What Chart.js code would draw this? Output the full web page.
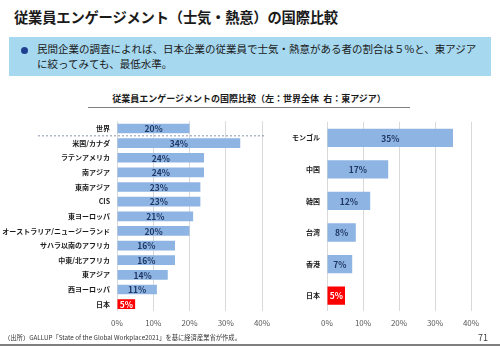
<!DOCTYPE html>
<html lang="ja">
<head>
<meta charset="utf-8">
<script src="https://cdn.jsdelivr.net/npm/chart.js@4"></script>
<style>
  html, body { margin: 0; padding: 0; background: #fff; }
  body { width: 500px; height: 346px; position: relative; overflow: hidden;
         font-family: "Noto Sans CJK JP", "Noto Sans", sans-serif; color: #1a1a1a; }
  .title { position: absolute; left: 14px; top: 6px; font-size: 14.3px; font-weight: 700; letter-spacing: -0.2px; }
  .note { position: absolute; left: 9px; top: 37px; width: 482px; height: 39px; background: #a6d8ef; }
  .note .dot { position: absolute; left: 12px; top: 10px; width: 7px; height: 7px; border-radius: 50%; background: #1f3f8f; }
  .note p { position: absolute; left: 28px; top: 5px; margin: 0; font-size: 10.5px; line-height: 14.5px; white-space: nowrap; }
  .ctitle { position: absolute; left: 88px; top: 92px; width: 322px; text-align: center; font-size: 9px; font-weight: 700;
            border-bottom: 1px solid #7f7f7f; padding-bottom: 2px; }
  #leftBox  { position: absolute; left: 0;     top: 110px; width: 280px; height: 229px; }
  #rightBox { position: absolute; left: 270px; top: 110px; width: 230px; height: 229px; }
  .src { position: absolute; left: 4px; top: 333px; font-size: 6.3px; color: #333; }
  .page { position: absolute; right: 12px; top: 331px; font-size: 9px; color: #404040; }
  .rule { position: absolute; left: 0; right: 0; top: 344px; height: 2px; background: #7f7f7f; }
</style>
</head>
<body>
<div class="title">従業員エンゲージメント（士気・熱意）の国際比較</div>
<div class="note"><span class="dot"></span><p>民間企業の調査によれば、日本企業の従業員で士気・熱意がある者の割合は５%と、東アジア<br>に絞ってみても、最低水準。</p></div>
<div class="ctitle">従業員エンゲージメントの国際比較（左：世界全体&nbsp;&nbsp;右：東アジア）</div>
<div id="leftBox"><canvas id="leftChart"></canvas></div>
<div id="rightBox"><canvas id="rightChart"></canvas></div>
<div class="src">（出所）GALLUP「State of the Global Workplace2021」を基に経済産業省が作成。</div>
<div class="page">71</div>
<div class="rule"></div>
<script>
// --- data ---
var worldRegions = ['世界', '米国/カナダ', 'ラテンアメリカ', '南アジア', '東南アジア', 'CIS', '東ヨーロッパ',
  'オーストラリア/ニュージーランド', 'サハラ以南のアフリカ', '中東/北アフリカ', '東アジア', '西ヨーロッパ', '日本'];
var worldValues = [20, 34, 24, 24, 23, 23, 21, 20, 16, 16, 14, 11, 5];
var eastAsiaRegions = ['モンゴル', '中国', '韓国', '台湾', '香港', '日本'];
var eastAsiaValues = [35, 17, 12, 8, 7, 5];
var xTicks = [0, 10, 20, 30, 40];

var BLUE = '#8eb4e3';
var RED = '#ff0000';
var NAVY = '#1f3864';
var FONT_FAMILY = '"Noto Sans CJK JP", "Noto Sans", sans-serif';

function barColors(labels) {
  return labels.map(function (l) { return l === '日本' ? RED : BLUE; });
}

// value labels drawn in the middle of each bar
var valueLabels = {
  id: 'valueLabels',
  afterDatasetsDraw: function (chart) {
    var ctx = chart.ctx;
    var meta = chart.getDatasetMeta(0);
    var data = chart.data.datasets[0].data;
    ctx.save();
    ctx.font = 'bold 8.5px ' + FONT_FAMILY;
    ctx.textAlign = 'center';
    ctx.textBaseline = 'middle';
    meta.data.forEach(function (bar, i) {
      ctx.fillStyle = chart.data.labels[i] === '日本' ? '#fff' : NAVY;
      ctx.fillText(data[i] + '%', (bar.base + bar.x) / 2, bar.y + 0.5);
    });
    ctx.restore();
  }
};

// dashed separator under "世界"
var worldSeparator = {
  id: 'worldSeparator',
  afterDraw: function (chart) {
    var y = chart.scales.y;
    var yy = (y.getPixelForValue(0) + y.getPixelForValue(1)) / 2;
    var ctx = chart.ctx;
    ctx.save();
    ctx.strokeStyle = '#8496b0';
    ctx.lineWidth = 1;
    ctx.setLineDash([2, 2]);
    ctx.beginPath();
    ctx.moveTo(38, yy);
    ctx.lineTo(chart.chartArea.right + 3, yy);
    ctx.stroke();
    ctx.restore();
  }
};

function makeChart(id, labels, values, opts) {
  return new Chart(document.getElementById(id), {
    type: 'bar',
    data: {
      labels: labels,
      datasets: [{
        data: values,
        backgroundColor: barColors(labels),
        borderWidth: 0,
        barPercentage: opts.barPct,
        categoryPercentage: 1
      }]
    },
    options: {
      indexAxis: 'y',
      responsive: true,
      maintainAspectRatio: false,
      animation: false,
      layout: { padding: opts.padding },
      plugins: { legend: { display: false }, tooltip: { enabled: false } },
      scales: {
        x: {
          min: 0, max: 40,
          afterBuildTicks: function (s) { s.ticks = xTicks.map(function (v) { return { value: v }; }); },
          grid: { color: '#d9d9d9', drawTicks: false },
          border: { display: false },
          ticks: { padding: 7, color: '#595959', font: { family: FONT_FAMILY, size: 8 },
                   callback: function (v) { return v + '%'; } }
        },
        y: {
          afterFit: function (s) { s.width = opts.yWidth; },
          grid: { display: false, drawTicks: false },
          border: { display: false },
          ticks: { padding: opts.tickPad, color: '#1a1a1a', font: { family: FONT_FAMILY, size: 7, weight: 'bold' } }
        }
      }
    },
    plugins: opts.plugins
  });
}

makeChart('leftChart', worldRegions, worldValues, {
  barPct: 0.66, yWidth: 117, tickPad: 7,
  padding: { top: 9, right: 18, bottom: 4, left: 0 },
  plugins: [valueLabels, worldSeparator]
});

makeChart('rightChart', eastAsiaRegions, eastAsiaValues, {
  barPct: 0.58, yWidth: 57, tickPad: 7,
  padding: { top: 12, right: 29, bottom: 4, left: 0 },
  plugins: [valueLabels]
});
</script>
</body>
</html>
